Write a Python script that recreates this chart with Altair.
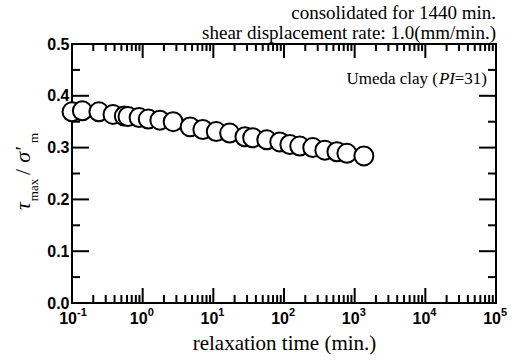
import altair as alt
import pandas as pd

# data
times = [0.1, 0.14, 0.24, 0.38, 0.55, 0.62, 0.89, 1.2, 1.75, 2.7, 4.7, 7.1, 11, 17, 28,
         36, 57, 87, 121, 167, 255, 378, 561, 776, 1350]
taus = [0.369, 0.371, 0.369, 0.364, 0.361, 0.360, 0.358, 0.355, 0.353, 0.350, 0.340,
        0.335, 0.331, 0.328, 0.321, 0.319, 0.315, 0.311, 0.306, 0.303, 0.300, 0.295,
        0.292, 0.289, 0.284]

decades = [0.1, 1, 10, 100, 1000, 10000, 100000]
exponents = ["-1", "0", "1", "2", "3", "4", "5"]
minor_x = [m * d for d in decades[:-1] for m in range(2, 10)]
major_y = [0.0, 0.1, 0.2, 0.3, 0.4, 0.5]
minor_y = [0.05, 0.15, 0.25, 0.35, 0.45]

W, H = 424, 259
SERIF = "Liberation Serif, Times New Roman, serif"
SANS = "Liberation Sans, Arial, Helvetica, sans-serif"

xs = alt.Scale(type="log", domain=[0.1, 100000], nice=False)
ys = alt.Scale(domain=[0, 0.5], nice=False)

pts = pd.DataFrame({"t": times, "tau": taus})
dec = pd.DataFrame({"t": decades, "e": exponents, "b": ["10"] * len(decades)})
mnx = pd.DataFrame({"t": minor_x})
mjy = pd.DataFrame({"v": major_y})
mny = pd.DataFrame({"v": minor_y})

X = lambda f: alt.X(f, type="quantitative", scale=xs)
Y = lambda f: alt.Y(f, type="quantitative", scale=ys)

x_axis = alt.Axis(values=decades, labels=False, ticks=False, domain=False, grid=False,
                  title="relaxation time (min.)", titleFont=SERIF, titleFontSize=21,
                  titleFontWeight="normal", titleColor="black", titlePadding=29)
y_axis = alt.Axis(values=major_y, format=".1f", ticks=False, domain=False, grid=False,
                  labelFont=SANS, labelFontSize=16, labelFontWeight="bold",
                  labelColor="black", labelPadding=3, title="")

points = alt.Chart(pts).mark_point(shape="circle", filled=True, fill="white",
                                   stroke="black", strokeWidth=2, size=360,
                                   opacity=1).encode(
    x=alt.X("t", type="quantitative", scale=xs, axis=x_axis),
    y=alt.Y("tau", type="quantitative", scale=ys, axis=y_axis))

def xticks(df, length, top):
    if top:
        return alt.Chart(df).mark_rule(color="black", strokeWidth=2).encode(
            x=X("t"), y=alt.value(0), y2=alt.value(length))
    return alt.Chart(df).mark_rule(color="black", strokeWidth=2).encode(
        x=X("t"), y=alt.value(H), y2=alt.value(H - length))

def yticks(df, length, right):
    if right:
        return alt.Chart(df).mark_rule(color="black", strokeWidth=2).encode(
            y=Y("v"), x=alt.value(W), x2=alt.value(W - length))
    return alt.Chart(df).mark_rule(color="black", strokeWidth=2).encode(
        y=Y("v"), x=alt.value(0), x2=alt.value(length))

ticks = [
    xticks(dec, 15, False), xticks(dec, 14, True),
    xticks(mnx, 8, False), xticks(mnx, 7, True),
    yticks(mjy, 17, False), yticks(mjy, 17, True),
    yticks(mny, 8, False), yticks(mny, 8, True),
]

lab10 = alt.Chart(dec).mark_text(font=SANS, fontSize=16, fontWeight="bold",
                                 align="right", baseline="top", dx=5, color="black").encode(
    x=X("t"), y=alt.value(H + 8), text="b:N")
labexp = alt.Chart(dec).mark_text(font=SANS, fontSize=11, fontWeight="bold",
                                  align="left", baseline="top", dx=5, color="black").encode(
    x=X("t"), y=alt.value(H + 4), text="e:N")

def note(s, xpos, italic=False):
    kw = dict(font=SERIF, fontSize=17, align="right", baseline="alphabetic", color="black")
    if italic:
        kw["fontStyle"] = "italic"
    return alt.Chart(pd.DataFrame({"s": [s]})).mark_text(**kw).encode(
        x=alt.value(xpos), y=alt.value(40), text="s:N")

umeda = [note("=31)", W - 9), note("PI", W - 9 - 32, True),
         note("Umeda clay (", W - 9 - 32 - 17)]

# rotated y-axis title: tau_max / sigma'_m
def ytitle(s, ycenter, size, xbase, italic=False):
    kw = dict(font=SERIF, fontSize=size, angle=270, align="center",
              baseline="alphabetic", color="black")
    if italic:
        kw["fontStyle"] = "italic"
    return alt.Chart(pd.DataFrame({"s": [s]})).mark_text(**kw).encode(
        x=alt.value(xbase), y=alt.value(ycenter - 44), text="s:N")

ytitles = [
    ytitle("τ", 206, 22, -42, True),
    ytitle("max", 190, 13, -34),
    ytitle("/", 172, 22, -42),
    ytitle("σ′", 155, 22, -42, True),
    ytitle("m", 138, 13, -34),
]

chart = alt.layer(points, *ticks, lab10, labexp, *umeda, *ytitles).properties(
    width=W, height=H,
    background="white",
    title=alt.TitleParams(
        text=["consolidated for 1440 min.", "shear displacement rate: 1.0(mm/min.)"],
        anchor="end", frame="group", font=SERIF, fontSize=19, fontWeight="normal",
        color="black", lineHeight=20, offset=0, dy=7),
    autosize=alt.AutoSizeParams(type="none"),
    padding={"left": 72, "top": 44, "right": 28, "bottom": 58},
).configure_view(stroke="black", strokeWidth=2)

chart.save("out.html", embed_options={"renderer": "svg", "actions": False})
